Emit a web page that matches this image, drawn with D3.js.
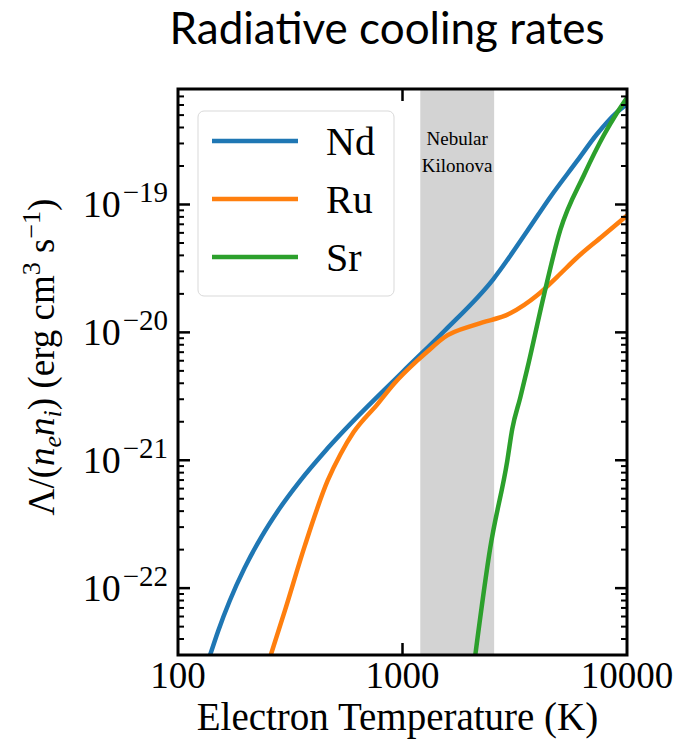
<!DOCTYPE html>
<html>
<head>
<meta charset="utf-8">
<script src="https://cdn.jsdelivr.net/npm/d3@7"></script>
<style>
  html, body { margin: 0; padding: 0; background: #fff; }
  svg { display: block; }
</style>
</head>
<body>
<div id="chart"><svg width="679" height="739"></svg></div>
<script>
// values
const ndTemp = [139, 151, 170, 198, 235, 278, 352, 464, 1000, 1532, 2535, 3594, 4548, 5995, 7356, 9029, 10000];
const ndRate = [3.0e-23, 4.63e-23, 7.97e-23, 1.44e-22, 2.51e-22, 4.0e-22, 7.0e-22, 1.24e-21, 4.9e-21, 1.02e-20, 2.6e-20, 6.2e-20, 1.14e-19, 2.19e-19, 3.56e-19, 5.28e-19, 6.1e-19];
const ruTemp = [259, 300, 367, 464, 530, 606, 774, 919, 1166, 1292, 1532, 2154, 3020, 3981, 4887, 5995, 7743, 10000];
const ruRate = [3.0e-23, 6.76e-23, 2.14e-22, 6.92e-22, 1.12e-21, 1.66e-21, 2.75e-21, 3.98e-21, 6.03e-21, 7.08e-21, 9.12e-21, 1.16e-20, 1.41e-20, 1.95e-20, 2.72e-20, 3.85e-20, 5.62e-20, 8.2e-20];
const srTemp = [2110, 2461, 2929, 3083, 3345, 3594, 4276, 5038, 6440, 7904, 9029, 10000];
const srRate = [3.0e-23, 2.08e-22, 9.9e-22, 1.76e-21, 3.08e-21, 5.18e-21, 1.99e-20, 6.27e-20, 1.71e-19, 3.51e-19, 5.21e-19, 6.83e-19];

const seriesNames = ['Nd', 'Ru', 'Sr'];
const seriesColors = ['#1f77b4', '#ff7f0e', '#2ca02c'];
const xTickValues = [100, 1000, 10000];
const xMajorInner = [1000];
const yTickExps = [-19, -20, -21, -22];
const bandRange = [1200, 2560];
const bandLabel = ['Nebular', 'Kilonova'];

const SVG = d3.select('#chart svg');
const SERIF = '"Liberation Serif", "DejaVu Serif", serif';
const LEFT = 178, RIGHT = 627, TOP = 89, BOTTOM = 655;

const X_SCALE = d3.scaleLog().domain([100, 10000]).range([LEFT, RIGHT]);
const Y_SCALE = d3.scaleLog().domain([3e-23, 8e-19]).range([BOTTOM, TOP]);

SVG.append('defs').append('clipPath').attr('id', 'plotClip')
  .append('rect')
  .attr('x', LEFT).attr('y', TOP)
  .attr('width', RIGHT - LEFT).attr('height', BOTTOM - TOP);

// title
SVG.append('text')
  .attr('x', 387).attr('y', 44)
  .attr('text-anchor', 'middle')
  .style('font-family', 'Lato, "Open Sans", sans-serif')
  .style('font-size', '44px')
  .text('Radiative cooling rates');

// shaded band
SVG.append('rect')
  .attr('x', X_SCALE(bandRange[0]))
  .attr('y', TOP)
  .attr('width', X_SCALE(bandRange[1]) - X_SCALE(bandRange[0]))
  .attr('height', BOTTOM - TOP)
  .style('fill', '#d3d3d3');

const bandMid = Math.sqrt(bandRange[0] * bandRange[1]);
bandLabel.forEach((t, i) => {
  SVG.append('text')
    .attr('x', X_SCALE(bandMid))
    .attr('y', 145 + i * 27)
    .attr('text-anchor', 'middle')
    .style('font-family', SERIF)
    .style('font-size', '19px')
    .text(t);
});

// curves
const LINE = d3.line()
  .x((d) => X_SCALE(d[0]))
  .y((d) => Y_SCALE(d[1]))
  .curve(d3.curveMonotoneX);

const series = [
  d3.zip(ndTemp, ndRate),
  d3.zip(ruTemp, ruRate),
  d3.zip(srTemp, srRate),
];

const CURVES = SVG.append('g').attr('clip-path', 'url(#plotClip)');
series.forEach((pts, i) => {
  CURVES.append('path')
    .attr('d', LINE(pts))
    .style('fill', 'none')
    .style('stroke', seriesColors[i])
    .style('stroke-width', 4.5)
    .style('stroke-linejoin', 'round');
});

// ticks, inward on all sides
const TICKS = SVG.append('g').style('stroke', '#000');
for (let e = -23; e <= -19; e++) {
  for (let m = 1; m <= 9; m++) {
    const v = m * Math.pow(10, e);
    if (v < 3e-23 || v > 8e-19) continue;
    const y = Y_SCALE(v);
    const len = m === 1 ? 12 : 6;
    const w = m === 1 ? 2.5 : 2;
    TICKS.append('line').attr('x1', LEFT).attr('x2', LEFT + len)
      .attr('y1', y).attr('y2', y).style('stroke-width', w);
    TICKS.append('line').attr('x1', RIGHT).attr('x2', RIGHT - len)
      .attr('y1', y).attr('y2', y).style('stroke-width', w);
  }
}
xMajorInner.forEach((v) => {
  const x = X_SCALE(v);
  TICKS.append('line').attr('x1', x).attr('x2', x)
    .attr('y1', BOTTOM).attr('y2', BOTTOM - 12).style('stroke-width', 2.5);
  TICKS.append('line').attr('x1', x).attr('x2', x)
    .attr('y1', TOP).attr('y2', TOP + 12).style('stroke-width', 2.5);
});

// frame
SVG.append('rect')
  .attr('x', LEFT).attr('y', TOP)
  .attr('width', RIGHT - LEFT).attr('height', BOTTOM - TOP)
  .style('fill', 'none')
  .style('stroke', '#000')
  .style('stroke-width', 3);

// x tick labels
xTickValues.forEach((v) => {
  SVG.append('text')
    .attr('x', X_SCALE(v)).attr('y', 688)
    .attr('text-anchor', 'middle')
    .style('font-family', SERIF)
    .style('font-size', '37px')
    .text(v);
});

// y tick labels 10^n
yTickExps.forEach((e) => {
  const y = Y_SCALE(Math.pow(10, e));
  const t = SVG.append('text')
    .attr('x', 168).attr('y', y + 13)
    .attr('text-anchor', 'end')
    .style('font-family', SERIF)
    .style('font-size', '38px');
  t.append('tspan').text('10');
  t.append('tspan').attr('dx', 2).attr('dy', -15).style('font-size', '29px').text('\u2212' + (-e));
});

// axis labels
SVG.append('text')
  .attr('x', (LEFT + RIGHT) / 2 - 5).attr('y', 730)
  .attr('text-anchor', 'middle')
  .style('font-family', SERIF)
  .style('font-size', '39px')
  .text('Electron Temperature (K)');

const YL = SVG.append('text')
  .attr('transform', 'translate(54, 357) rotate(-90)')
  .attr('text-anchor', 'middle')
  .style('font-family', SERIF)
  .style('font-size', '37px');
YL.append('tspan').text('\u039B/(');
YL.append('tspan').style('font-style', 'italic').text('n');
YL.append('tspan').attr('dy', 7).style('font-style', 'italic').style('font-size', '26px').text('e');
YL.append('tspan').attr('dy', -7).style('font-style', 'italic').text('n');
YL.append('tspan').attr('dy', 7).style('font-style', 'italic').style('font-size', '26px').text('i');
YL.append('tspan').attr('dy', -7).text(') (erg cm');
YL.append('tspan').attr('dy', -14).style('font-size', '26px').text('3');
YL.append('tspan').attr('dy', 14).text(' s');
YL.append('tspan').attr('dy', -14).style('font-size', '26px').text('\u22121');
YL.append('tspan').attr('dy', 14).text(')');

// legend
const LEG = SVG.append('g');
LEG.append('rect')
  .attr('x', 198).attr('y', 111)
  .attr('width', 196).attr('height', 185)
  .attr('rx', 6)
  .style('fill', '#fff')
  .style('fill-opacity', 0.8)
  .style('stroke', '#d9d9d9')
  .style('stroke-width', 1);
seriesNames.forEach((name, i) => {
  const y = 141 + i * 58;
  LEG.append('line')
    .attr('x1', 212).attr('x2', 298)
    .attr('y1', y).attr('y2', y)
    .style('stroke', seriesColors[i])
    .style('stroke-width', 4.5);
  LEG.append('text')
    .attr('x', 326).attr('y', y + 14)
    .style('font-family', SERIF)
    .style('font-size', '40px')
    .text(name);
});
</script>
</body>
</html>
